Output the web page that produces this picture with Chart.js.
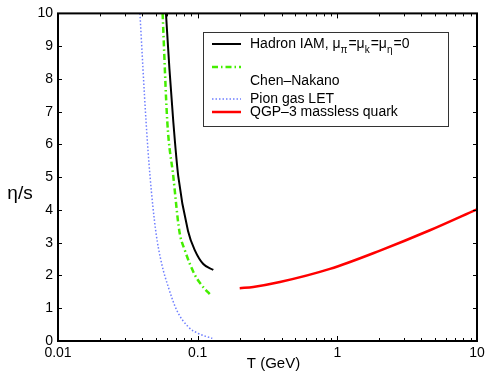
<!DOCTYPE html>
<html>
<head>
<meta charset="utf-8">
<script src="https://cdn.jsdelivr.net/npm/chart.js@4"></script>
<style>
  html, body { margin: 0; padding: 0; background: #ffffff; }
  #wrap { width: 490px; height: 374px; }
</style>
</head>
<body>
<div id="wrap"><canvas id="chart" width="490" height="374"></canvas></div>
<script>
// Hadron IAM (mu = 0)
const hadronT = [0.0593, 0.0628, 0.0669, 0.0726, 0.0853, 0.0957, 0.1097, 0.1294];
const hadronEta = [10, 8.3, 6.7, 5.03, 3.36, 2.76, 2.35, 2.17];

// Chen-Nakano
const chenT = [0.0561, 0.0606, 0.0669, 0.0739, 0.0811, 0.0946, 0.1069, 0.1245];
const chenEta = [10, 6.7, 5.03, 3.36, 2.76, 2.05, 1.70, 1.39];

// Pion gas LET
const pionT = [0.0386, 0.0427, 0.0456, 0.0501, 0.0553, 0.0616, 0.0708, 0.0857, 0.1010, 0.1273];
const pionEta = [10, 6.7, 5.03, 3.36, 2.35, 1.65, 0.94, 0.43, 0.23, 0.08];

// QGP, 3 massless quarks
const qgpT = [0.2, 0.25, 0.388, 0.885, 2.02, 4.6, 10];
const qgpEta = [1.61, 1.65, 1.80, 2.20, 2.76, 3.38, 4.02];

const xLabels = [0.01, 0.1, 1, 10];
const yTicks = [0, 1, 2, 3, 4, 5, 6, 7, 8, 9, 10];

const legendItems = [
  { parts: [['Hadron IAM, \u03bc', 0], ['\u03c0', 1], ['=\u03bc', 0], ['k', 1], ['=\u03bc', 0], ['\u03b7', 1], ['=0', 0]], color: '#000000', width: 2, dash: [], lineY: 44, textY: 44 },
  { parts: [['Chen\u2013Nakano', 0]], color: '#44ee00', width: 2.5, dash: [6, 3, 1.5, 3], lineY: 67, textY: 81 },
  { parts: [['Pion gas LET', 0]], color: '#6f7fff', width: 1.5, dash: [1.5, 2], lineY: 99, textY: 99 },
  { parts: [['QGP\u20133 massless quark', 0]], color: '#ff0000', width: 2.5, dash: [], lineY: 112, textY: 112 }
];

const font = 'Liberation Sans, Arial, Helvetica, sans-serif';

function points(xs, ys) {
  return xs.map((x, i) => ({ x, y: ys[i] }));
}

const frame = {
  id: 'frame',
  afterDraw(chart) {
    const { ctx, chartArea: a, scales } = chart;
    const xs = scales.x;
    const ys = scales.y;
    ctx.save();
    ctx.strokeStyle = '#000';
    ctx.lineWidth = 1;
    // inward ticks on all four sides
    for (let e = -2; e <= 1; e++) {
      for (let m = 1; m <= 9; m++) {
        const v = m * Math.pow(10, e);
        if (v > 10) break;
        const px = Math.round(xs.getPixelForValue(v)) + 0.5;
        const len = m === 1 ? 5 : 3;
        ctx.beginPath();
        ctx.moveTo(px, a.bottom); ctx.lineTo(px, a.bottom - len);
        ctx.moveTo(px, a.top); ctx.lineTo(px, a.top + len);
        ctx.stroke();
      }
    }
    yTicks.forEach((v) => {
      const py = Math.round(ys.getPixelForValue(v)) + 0.5;
      ctx.beginPath();
      ctx.moveTo(a.left, py); ctx.lineTo(a.left + 4, py);
      ctx.moveTo(a.right, py); ctx.lineTo(a.right - 4, py);
      ctx.stroke();
    });
    // box
    ctx.lineWidth = 2;
    ctx.strokeRect(a.left, a.top, a.right - a.left, a.bottom - a.top);

    // axis titles
    ctx.fillStyle = '#000';
    ctx.textBaseline = 'middle';
    ctx.textAlign = 'center';
    ctx.font = '19px ' + font;
    ctx.fillText('\u03b7/s', 20, 194);
    ctx.font = '15px ' + font;
    ctx.fillText('T (GeV)', (a.left + a.right) / 2 + 6, 364);

    // legend
    ctx.fillStyle = '#fff';
    ctx.fillRect(203, 32, 245, 94);
    ctx.strokeStyle = '#333';
    ctx.lineWidth = 1;
    ctx.strokeRect(203.5, 32.5, 245, 94);
    legendItems.forEach((item) => {
      ctx.strokeStyle = item.color;
      ctx.lineWidth = item.width;
      ctx.setLineDash(item.dash);
      ctx.beginPath();
      ctx.moveTo(212, item.lineY);
      ctx.lineTo(241, item.lineY);
      ctx.stroke();
      ctx.setLineDash([]);
      ctx.fillStyle = '#000';
      ctx.textAlign = 'left';
      let x = 250;
      item.parts.forEach(([txt, sub]) => {
        ctx.font = (sub ? '10px ' : '14px ') + font;
        ctx.fillText(txt, x, item.textY + (sub ? 6 : 0));
        x += ctx.measureText(txt).width + (sub ? 1 : 0);
      });
    });
    ctx.restore();
  }
};

new Chart(document.getElementById('chart'), {
  type: 'line',
  data: {
    datasets: [
      {
        label: 'Hadron IAM',
        data: points(hadronT, hadronEta),
        borderColor: '#000000',
        borderWidth: 2,
        pointRadius: 0,
        cubicInterpolationMode: 'monotone'
      },
      {
        label: 'Chen-Nakano',
        data: points(chenT, chenEta),
        borderColor: '#44ee00',
        borderWidth: 2.5,
        borderDash: [6, 3, 1.5, 3],
        pointRadius: 0,
        cubicInterpolationMode: 'monotone'
      },
      {
        label: 'Pion gas LET',
        data: points(pionT, pionEta),
        borderColor: '#6f7fff',
        borderWidth: 1.5,
        borderDash: [1.5, 2],
        pointRadius: 0,
        cubicInterpolationMode: 'monotone'
      },
      {
        label: 'QGP-3 massless quark',
        data: points(qgpT, qgpEta),
        borderColor: '#ff0000',
        borderWidth: 2.5,
        pointRadius: 0,
        cubicInterpolationMode: 'monotone'
      }
    ]
  },
  options: {
    responsive: false,
    animation: false,
    layout: { padding: { top: 11, right: 13, left: 0, bottom: 0 } },
    plugins: {
      legend: { display: false },
      tooltip: { enabled: false }
    },
    scales: {
      x: {
        type: 'logarithmic',
        min: 0.01,
        max: 10,
        grid: { display: false, drawTicks: false },
        border: { display: false },
        afterFit(scale) { scale.height = 33; },
        ticks: {
          autoSkip: false,
          maxRotation: 0,
          padding: 4,
          color: '#000',
          font: { family: font, size: 14 },
          callback(value) {
            return xLabels.includes(Number(value)) ? String(value) : '';
          }
        }
      },
      y: {
        min: 0,
        max: 10,
        grid: { display: false, drawTicks: false },
        border: { display: false },
        afterFit(scale) { scale.width = 58; },
        afterBuildTicks(scale) { scale.ticks = yTicks.map((v) => ({ value: v })); },
        ticks: {
          padding: 5,
          color: '#000',
          font: { family: font, size: 14 }
        }
      }
    }
  },
  plugins: [frame]
});
</script>
</body>
</html>
